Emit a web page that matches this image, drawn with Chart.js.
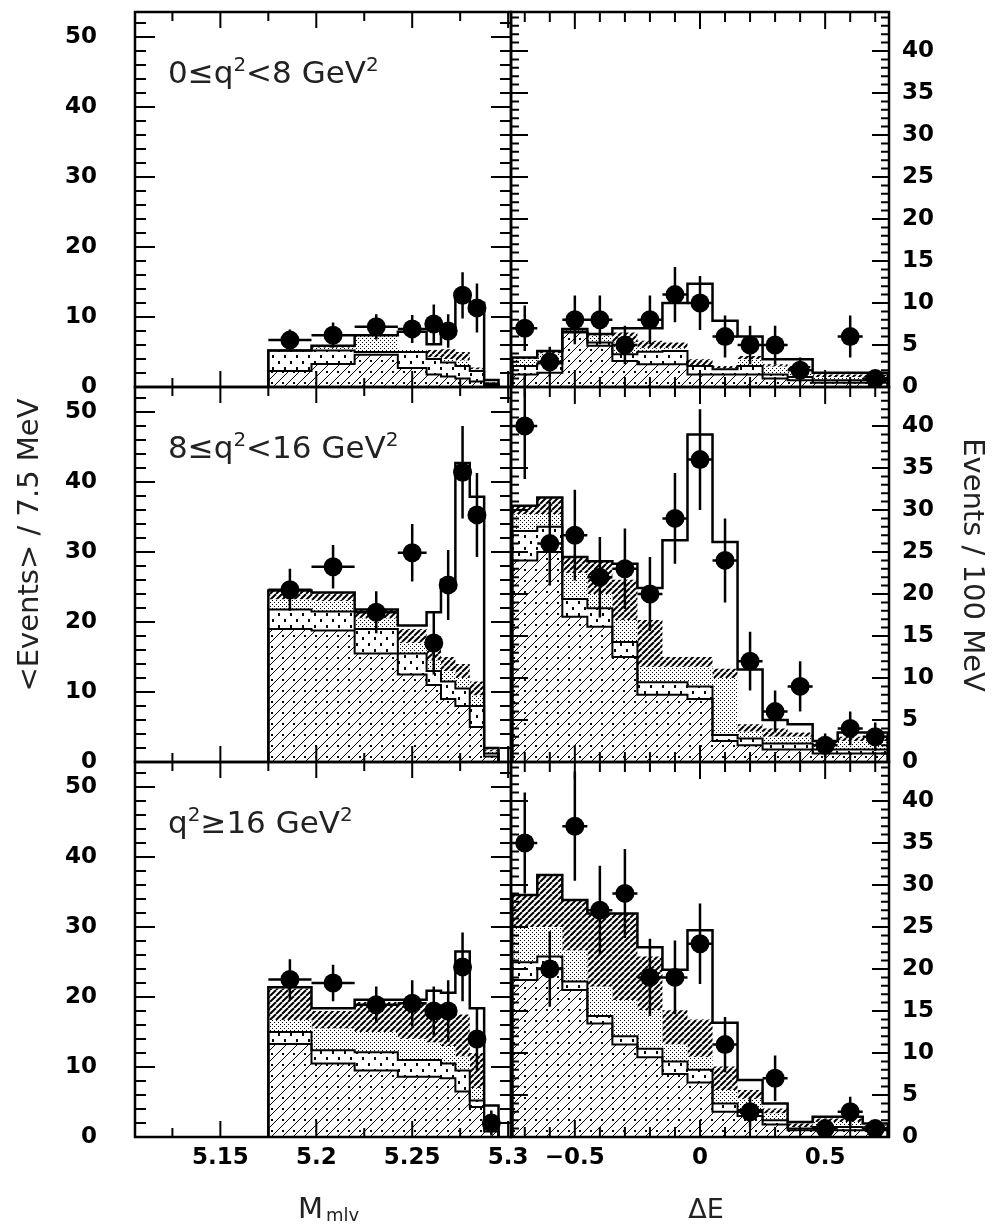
<!DOCTYPE html>
<html>
<head>
<meta charset="utf-8">
<script src="https://cdn.jsdelivr.net/npm/chart.js@4.4.1/dist/chart.umd.min.js"></script>
<style>
html,body{margin:0;padding:0;background:#fff;}
#page{position:relative;width:1001px;height:1225px;overflow:hidden;background:#fff;}
#page canvas{position:absolute;left:0;top:0;}
</style>
</head>
<body>
<div id="page">
<canvas id="tl" width="1001" height="1225"></canvas>
<canvas id="tr" width="1001" height="1225"></canvas>
<canvas id="ml" width="1001" height="1225"></canvas>
<canvas id="mr" width="1001" height="1225"></canvas>
<canvas id="bl" width="1001" height="1225"></canvas>
<canvas id="br" width="1001" height="1225"></canvas>
</div>
<script>
// bin edges / centres
const mEdges = [5.175, 5.1975, 5.22, 5.2425, 5.2575, 5.265, 5.2725, 5.28, 5.2875, 5.295];
const mCenters = [5.18625, 5.20875, 5.23125, 5.25, 5.26125, 5.26875, 5.27625, 5.28375, 5.29125];
const eEdges = [-0.75, -0.65, -0.55, -0.45, -0.35, -0.25, -0.15, -0.05, 0.05, 0.15, 0.25, 0.35, 0.45, 0.55, 0.65, 0.75];
const eCenters = [-0.7, -0.6, -0.5, -0.4, -0.3, -0.2, -0.1, 0, 0.1, 0.2, 0.3, 0.4, 0.5, 0.6, 0.7];

const mTickLabels = ['5.15', '5.2', '5.25', '5.3'];
const eTickLabels = ['\u22120.5', '0', '0.5'];
const leftYLabels = ['0', '10', '20', '30', '40', '50'];
const rightYLabels = ['0', '5', '10', '15', '20', '25', '30', '35', '40'];

// stacked levels (cumulative tops): A hatched, B dashed, C stipple, D dense hatch, total
// 0 <= q2 < 8
const tlA = [2.3, 3.3, 4.6, 2.7, 1.8, 1.5, 1.2, 0.8, 0.3];
const tlB = [5.2, 5.2, 5.0, 5.0, 4.0, 3.5, 3.0, 2.3, 0.5];
const tlC = [5.2, 5.6, 7.3, 5.4, 4.2, 4.0, 3.8, 2.5, 0.6];
const tlD = [5.2, 5.9, 7.3, 5.4, 5.3, 5.4, 5.0, 2.8, 0.7];
const tlTot = [5.2, 5.9, 7.4, 7.9, 6.1, 8.2, 13.6, 12.0, 1.0];
const tlPts = [6.7, 7.4, 8.6, 8.3, 9.0, 8.0, 13.1, 11.3, null];
const tlErr = [1.5, 1.8, 1.8, 2.0, 2.8, 2.4, 3.3, 3.5, 0];

const trA = [1.5, 1.7, 6.5, 4.9, 3.1, 2.7, 2.7, 1.5, 1.5, 1.5, 1.0, 0.8, 0.5, 0.5, 0.5];
const trB = [2.5, 2.8, 6.6, 5.3, 3.9, 4.2, 4.3, 2.5, 2.1, 2.5, 1.5, 1.2, 0.8, 0.8, 0.8];
const trC = [3.3, 4.0, 6.8, 6.1, 5.3, 4.6, 4.6, 2.6, 2.2, 3.3, 2.4, 2.0, 1.2, 1.2, 1.2];
const trD = [3.5, 4.3, 6.9, 6.2, 6.5, 5.5, 5.3, 3.3, 2.5, 3.7, 2.7, 2.5, 1.5, 1.5, 1.5];
const trTot = [3.5, 4.3, 6.9, 6.3, 7.0, 7.0, 10.0, 12.3, 7.9, 6.0, 3.3, 3.3, 1.7, 1.7, 1.7];
const trPts = [7, 3, 8, 8, 5, 8, 11, 10, 6, 5, 5, 2, null, 6, 1];
const trErr = [2.7, 1.8, 2.9, 2.9, 2.3, 2.9, 3.3, 3.2, 2.5, 2.3, 2.3, 1.5, 0, 2.5, 1.0];

// 8 <= q2 < 16
const mlA = [19.0, 18.8, 15.5, 12.5, 11.0, 9.0, 8.0, 5.0, 0.8];
const mlB = [21.8, 21.5, 19.0, 15.5, 13.0, 11.5, 10.5, 8.0, 1.2];
const mlC = [23.2, 23.0, 20.5, 17.0, 14.5, 13.0, 12.0, 9.5, 1.5];
const mlD = [24.5, 24.2, 21.8, 19.0, 17.0, 15.0, 14.0, 11.5, 1.8];
const mlTot = [24.5, 24.2, 21.8, 19.5, 21.4, 26.0, 42.7, 37.9, 2.0];
const mlPts = [24.6, 27.9, 21.4, 29.9, 17.0, 25.3, 41.4, 35.3, null];
const mlErr = [3.0, 3.1, 3.0, 4.1, 4.5, 5.0, 6.6, 6.0, 0];

const mrA = [24, 25, 17.3, 16.1, 12.5, 8, 8, 7.5, 2.5, 2, 1.5, 1.5, 1, 1, 1];
const mrB = [27.5, 28, 19.4, 18.3, 14.3, 9.5, 9.5, 9, 3.2, 2.8, 2.2, 2.2, 1.5, 1.5, 1.5];
const mrC = [29.5, 29.5, 22.5, 20, 16.9, 11.3, 11.3, 11.3, 10, 3.6, 3, 3, 2, 2.5, 2.5];
const mrD = [30.5, 31.5, 24.4, 23.9, 21.7, 16.9, 12.5, 12.5, 11.1, 4.5, 4, 3.5, 2.5, 3, 3];
const mrTot = [30.5, 31.5, 24.4, 23.9, 23.6, 20.7, 26.4, 39, 26.2, 11, 5, 4.5, 2.5, 3.5, 3.5];
const mrPts = [40, 26, 27, 22, 23, 20, 29, 36, 24, 12, 6, 9, 2, 4, 3];
const mrErr = [6.3, 5.0, 5.4, 4.8, 4.8, 4.4, 5.4, 6.0, 5.0, 3.5, 2.5, 3.0, 1.4, 2.0, 1.7];

// q2 >= 16
const blA = [13.3, 10.5, 9.5, 8.6, 8.6, 8.4, 6.5, 4.3, 0.8];
const blB = [15.0, 12.4, 12.1, 11.0, 11.0, 10.5, 9.5, 5.2, 1.2];
const blC = [16.7, 15.5, 15.0, 14.0, 13.5, 13.0, 11.5, 7.0, 1.5];
const blD = [21.2, 18.0, 19.3, 19.0, 18.5, 18.0, 17.5, 12.0, 2.0];
const blTot = [21.4, 18.4, 19.6, 19.6, 20.9, 20.6, 26.5, 18.4, 4.5];
const blPts = [22.5, 22.0, 18.9, 19.1, 18.0, 18.0, 24.3, 14.0, 2.0];
const blErr = [2.9, 2.6, 2.6, 3.3, 3.5, 4.4, 4.9, 4.5, 1.8];

const brA = [18.7, 20.1, 17.5, 13.5, 11.0, 9.5, 7.5, 6.5, 3.0, 2.5, 1.5, 0.8, 0.8, 0.8, 0.8];
const brB = [20.8, 21.5, 18.5, 14.4, 12.0, 10.5, 9.0, 8.0, 4.0, 3.2, 2.0, 1.0, 1.2, 1.2, 1.0];
const brC = [25.0, 25.0, 22.2, 17.9, 16.3, 15.1, 11.0, 9.5, 5.6, 4.5, 2.8, 1.2, 1.8, 1.8, 1.2];
const brD = [28.8, 31.2, 28.2, 26.6, 26.6, 21.5, 15.1, 14.0, 8.4, 5.6, 3.4, 1.6, 2.2, 2.2, 1.4];
const brTot = [28.8, 31.2, 28.2, 26.6, 26.6, 22.6, 19.9, 24.6, 13.6, 6.8, 4.0, 1.8, 2.4, 2.4, 1.6];
const brPts = [35, 20, 37, 27, 29, 19, 19, 23, 11, 3, 7, null, 1, 3, 1];
const brErr = [6.0, 4.5, 6.5, 5.3, 5.3, 4.6, 4.4, 4.8, 3.3, 1.8, 2.7, 0, 1.0, 1.8, 1.0];

// fill patterns
function tile(w, h, paint) {
  const c = document.createElement('canvas');
  c.width = w; c.height = h;
  const g = c.getContext('2d');
  g.fillStyle = '#fff';
  g.fillRect(0, 0, w, h);
  paint(g);
  return g.createPattern(c, 'repeat');
}
function diag(g, size, lw) {
  g.strokeStyle = '#000';
  g.lineWidth = lw;
  for (const o of [-size, 0, size]) {
    g.beginPath();
    g.moveTo(o, size);
    g.lineTo(o + size, 0);
    g.stroke();
  }
}
const hatchLight = tile(11, 11, g => { diag(g, 11, 1); g.fillStyle = '#000'; g.fillRect(7, 8, 2, 2); });
const dashes = tile(12, 12, g => { g.fillStyle = '#000'; g.fillRect(2, 1, 2, 3); g.fillRect(8, 7, 2, 3); });
const stipple = tile(4, 4, g => { g.fillStyle = '#000'; g.fillRect(0, 0, 1, 1); g.fillRect(2, 2, 1, 1); });
const hatchDense = tile(6, 6, g => diag(g, 6, 2));

const W = 1001, H = 1225;
const cols = [{l: 135, r: 511}, {l: 511, r: 889}];
const rows = [{t: 12, b: 387}, {t: 387, b: 762}, {t: 762, b: 1137}];

function stepPoints(edges, lv) {
  const out = [{x: edges[0], y: 0}];
  lv.forEach((v, i) => out.push({x: edges[i], y: v}));
  out.push({x: edges[edges.length - 1], y: lv[lv.length - 1]});
  out.push({x: edges[edges.length - 1], y: 0});
  return out;
}

function sup(ctx, parts, x, y, size) {
  let cx = x;
  parts.forEach(([txt, raised]) => {
    ctx.font = (raised ? Math.round(size * 0.65) : size) + 'px "DejaVu Sans"';
    ctx.fillText(txt, cx, raised ? y - size * 0.4 : y);
    cx += ctx.measureText(txt).width;
  });
}

const axisPlugin = {
  id: 'axisPlugin',
  afterDatasetsDraw(chart) {
    const p = chart.config.options.plugins.axisPlugin;
    const {ctx, scales: {x, y}} = chart;
    // error bars
    ctx.save();
    ctx.strokeStyle = '#000';
    ctx.lineWidth = 2.5;
    ctx.beginPath();
    p.pts.forEach((v, i) => {
      if (v === null) return;
      const px = x.getPixelForValue(p.centers[i]);
      const py = y.getPixelForValue(v);
      ctx.moveTo(x.getPixelForValue(p.edges[i]), py);
      ctx.lineTo(x.getPixelForValue(p.edges[i + 1]), py);
      ctx.moveTo(px, y.getPixelForValue(v + p.err[i]));
      ctx.lineTo(px, y.getPixelForValue(Math.max(0, v - p.err[i])));
    });
    ctx.stroke();
    ctx.restore();
  },
  afterDraw(chart) {
    const p = chart.config.options.plugins.axisPlugin;
    const {ctx, chartArea: a, scales: {x, y}} = chart;
    ctx.save();
    ctx.strokeStyle = '#000';
    ctx.lineWidth = 2.5;
    ctx.strokeRect(a.left, a.top, a.right - a.left, a.bottom - a.top);
    ctx.lineWidth = 2;
    ctx.beginPath();
    p.xTicks.forEach(([v, len]) => {
      const px = x.getPixelForValue(v);
      ctx.moveTo(px, a.bottom); ctx.lineTo(px, a.bottom - len);
      ctx.moveTo(px, a.top); ctx.lineTo(px, a.top + len);
    });
    p.yTicks.forEach(([v, len]) => {
      const py = y.getPixelForValue(v);
      ctx.moveTo(a.left, py); ctx.lineTo(a.left + len, py);
      ctx.moveTo(a.right, py); ctx.lineTo(a.right - len, py);
    });
    ctx.stroke();

    ctx.fillStyle = '#000';
    ctx.font = 'bold 23px "DejaVu Sans"';
    ctx.textBaseline = 'middle';
    if (p.side === 'left') {
      ctx.textAlign = 'right';
      leftYLabels.forEach(t => ctx.fillText(t, 97, y.getPixelForValue(+t)));
    } else {
      ctx.textAlign = 'left';
      rightYLabels.forEach(t => ctx.fillText(t, 902, y.getPixelForValue(+t)));
    }
    if (p.xLabels) {
      ctx.textAlign = 'center';
      p.xLabels.forEach(t => ctx.fillText(t, x.getPixelForValue(+t.replace('\u2212', '-')), 1158));
    }
    if (p.title) {
      ctx.textAlign = 'left';
      ctx.textBaseline = 'alphabetic';
      ctx.fillStyle = '#222';
      sup(ctx, p.title, 168, a.top + 71, 31);
    }
    ctx.restore();
    if (p.extra) p.extra(ctx, a);
  }
};

function ticksFrom(start, step, count, isMajor, major, minor) {
  const out = [];
  for (let k = 0; k < count; k++) {
    const v = start + k * step;
    out.push([v, isMajor(k) ? major : minor]);
  }
  return out;
}

function makePanel(id, row, col, d) {
  const area = {l: cols[col].l, r: cols[col].r, t: rows[row].t, b: rows[row].b};
  const left = col === 0;
  const edges = left ? mEdges : eEdges;
  const centers = left ? mCenters : eCenters;
  const layer = (lv, fill, bg, bw) => ({
    data: stepPoints(edges, lv), stepped: true, fill: fill,
    backgroundColor: bg, borderColor: bw ? '#000' : 'rgba(0,0,0,0)', borderWidth: bw || 1,
    pointRadius: 0
  });
  const pts = [];
  d.pts.forEach((v, i) => { if (v !== null) pts.push({x: centers[i], y: v}); });
  return new Chart(document.getElementById(id), {
    type: 'line',
    data: {
      datasets: [
        layer(d.A, 'origin', hatchLight, 2),
        layer(d.B, '-1', dashes, 2),
        layer(d.C, '-1', stipple, 0),
        layer(d.D, '-1', hatchDense, 0),
        layer(d.T, '-1', '#fff', 2.5),
        {data: pts, showLine: false, pointRadius: 9.5, pointBackgroundColor: '#000',
         pointBorderColor: '#000', pointBorderWidth: 0, fill: false}
      ]
    },
    options: {
      responsive: false, animation: false, devicePixelRatio: 1, events: [],
      layout: {padding: {left: area.l, right: W - area.r, top: area.t, bottom: H - area.b}},
      scales: {
        x: {type: 'linear', display: false, min: left ? 5.1055 : -0.755, max: left ? 5.3015 : 0.755},
        y: {display: false, min: 0, max: left ? 375 / 7.0 : 375 / 8.4}
      },
      plugins: {
        legend: {display: false}, tooltip: {enabled: false},
        filler: {drawTime: 'beforeDatasetsDraw'},
        axisPlugin: {
          side: left ? 'left' : 'right',
          edges: edges, centers: centers, pts: d.pts, err: d.err,
          xTicks: left
            ? ticksFrom(5.125, 0.025, 8, k => k % 2 === 1, 16, 9)
            : ticksFrom(-0.7, 0.1, 15, k => k === 2 || k === 7 || k === 12, 17, 10),
          yTicks: left
            ? ticksFrom(0, 2, 27, k => k % 5 === 0, 20, 11)
            : ticksFrom(0, 1, 45, k => k % 5 === 0, 17, 8),
          xLabels: row === 2 ? (left ? mTickLabels : eTickLabels) : null,
          title: d.title || null,
          extra: d.extra || null
        }
      }
    },
    plugins: [axisPlugin]
  });
}

function sideTitle(ctx, text, x, y, angle) {
  ctx.save();
  ctx.fillStyle = '#222';
  ctx.font = '29px "DejaVu Sans"';
  ctx.textAlign = 'center';
  ctx.textBaseline = 'middle';
  ctx.translate(x, y);
  ctx.rotate(angle);
  ctx.fillText(text, 0, 0);
  ctx.restore();
}

makePanel('tl', 0, 0, {A: tlA, B: tlB, C: tlC, D: tlD, T: tlTot, pts: tlPts, err: tlErr,
  title: [['0\u2264q', 0], ['2', 1], ['<8 GeV', 0], ['2', 1]]});
makePanel('tr', 0, 1, {A: trA, B: trB, C: trC, D: trD, T: trTot, pts: trPts, err: trErr});
makePanel('ml', 1, 0, {A: mlA, B: mlB, C: mlC, D: mlD, T: mlTot, pts: mlPts, err: mlErr,
  title: [['8\u2264q', 0], ['2', 1], ['<16 GeV', 0], ['2', 1]],
  extra(ctx) { sideTitle(ctx, '<Events> / 7.5 MeV', 30, 545, -Math.PI / 2); }});
makePanel('mr', 1, 1, {A: mrA, B: mrB, C: mrC, D: mrD, T: mrTot, pts: mrPts, err: mrErr,
  extra(ctx) { sideTitle(ctx, 'Events / 100 MeV', 972, 565, Math.PI / 2); }});
makePanel('bl', 2, 0, {A: blA, B: blB, C: blC, D: blD, T: blTot, pts: blPts, err: blErr,
  title: [['q', 0], ['2', 1], ['\u226516 GeV', 0], ['2', 1]],
  extra(ctx) {
    ctx.save();
    ctx.fillStyle = '#222';
    ctx.textBaseline = 'alphabetic';
    ctx.font = '29px "DejaVu Sans"';
    ctx.fillText('M', 298, 1218);
    ctx.font = '18px "DejaVu Sans"';
    ctx.fillText('mlv', 326, 1221);
    ctx.restore();
  }});
makePanel('br', 2, 1, {A: brA, B: brB, C: brC, D: brD, T: brTot, pts: brPts, err: brErr,
  extra(ctx) {
    ctx.save();
    ctx.fillStyle = '#222';
    ctx.textAlign = 'center';
    ctx.textBaseline = 'alphabetic';
    ctx.font = '27px "DejaVu Sans"';
    ctx.fillText('\u0394E', 706, 1218);
    ctx.restore();
  }});
</script>
</body>
</html>
